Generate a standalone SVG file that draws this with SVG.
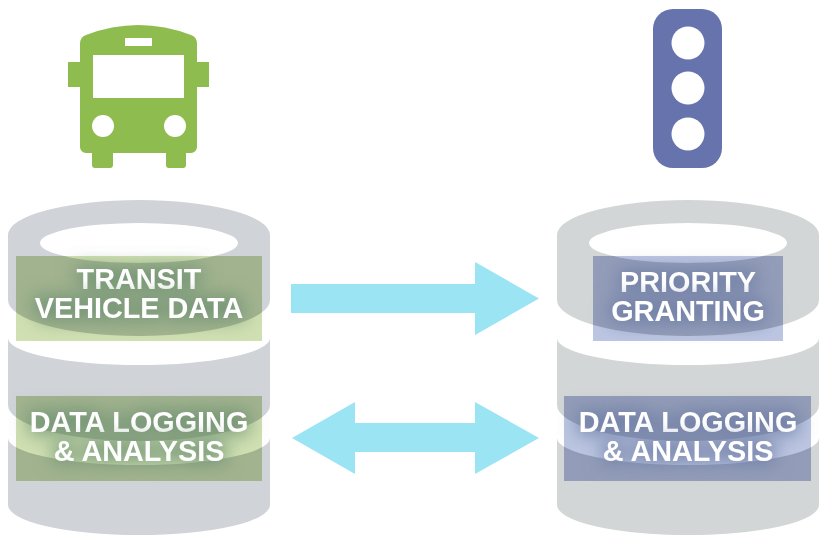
<svg xmlns="http://www.w3.org/2000/svg" xmlns:xlink="http://www.w3.org/1999/xlink" width="825" height="540" viewBox="0 0 825 540">
<style>
.lbl{font-family:"Liberation Sans",Arial,sans-serif;font-weight:700;font-size:28.800px;fill:#fff;text-anchor:middle}
.arrow{fill:#9ae4f4}
.hole{fill:#fff}
.gL{fill:#d0d4d8}
.gR{fill:#d3d6d6}
.lightL{fill:#d0e0b2}
.darkL{fill:#a2b38f}
.lightR{fill:#bcc6e2}
.darkR{fill:#939db9}
.haloL{filter:url(#haloL)}
.haloR{filter:url(#haloR)}
</style>
<defs>
<path id="cyl" fill-rule="evenodd" d="M8 235A131 35 0 0 1 270 235V300A131 36 0 0 1 8 300ZM40 243A99 20 0 0 0 238 243A99 20 0 0 0 40 243ZM8 338A131 27 0 0 0 270 338V405A131 36 0 0 1 8 405ZM8 438A131 27 0 0 0 270 438V505A131 30 0 0 1 8 505Z"/>
<clipPath id="sec"><use xlink:href="#cyl" clip-rule="evenodd"/></clipPath>
<filter id="soft" x="0" y="0" width="100%" height="100%"><feGaussianBlur stdDeviation="0.600"/></filter>
<filter id="haloL" x="-30%" y="-80%" width="160%" height="260%" color-interpolation-filters="sRGB">
<feMorphology in="SourceAlpha" operator="dilate" radius="3" result="d"/>
<feGaussianBlur in="d" stdDeviation="9" result="b"/>
<feFlood flood-color="#6c9070" flood-opacity=".8"/>
<feComposite in2="b" operator="in" result="h"/>
<feMerge><feMergeNode in="h"/><feMergeNode in="SourceGraphic"/></feMerge>
</filter>
<filter id="haloR" x="-30%" y="-80%" width="160%" height="260%" color-interpolation-filters="sRGB">
<feMorphology in="SourceAlpha" operator="dilate" radius="3" result="d"/>
<feGaussianBlur in="d" stdDeviation="9" result="b"/>
<feFlood flood-color="#6c7ba2" flood-opacity=".8"/>
<feComposite in2="b" operator="in" result="h"/>
<feMerge><feMergeNode in="h"/><feMergeNode in="SourceGraphic"/></feMerge>
</filter>
</defs>
<rect width="825" height="540" fill="#fff"/>
<g filter="url(#soft)">
<g id="bus">
<path fill="#8fbc4f" d="M95 168A3 3 0 0 1 92 165V153H86A6 6 0 0 1 80 147V87H68V62H80V44Q80 37 86 35Q112 25 138.500 25Q165 25 191 35Q197 37 197 44V62H209V87H197V147A6 6 0 0 1 191 153H186V165A3 3 0 0 1 183 168H169A3 3 0 0 1 166 165V153H113V165A3 3 0 0 1 110 168Z"/>
<rect class="hole" x="93" y="55" width="91" height="43"/>
<rect class="hole" x="125" y="38" width="27" height="8"/>
<circle class="hole" cx="103" cy="126" r="11"/>
<circle class="hole" cx="175" cy="126" r="11"/>
</g>
<g id="traffic-light">
<rect x="653" y="9" width="69" height="159" rx="20" fill="#6673ac"/>
<circle class="hole" cx="688" cy="43" r="16.500"/>
<circle class="hole" cx="688" cy="88" r="16.500"/>
<circle class="hole" cx="688" cy="134" r="16.500"/>
</g>
<g id="vehicle-store">
<use xlink:href="#cyl" class="gL"/>
<g id="transit-vehicle-data">
<rect class="lightL" x="16" y="256" width="246" height="85"/>
<rect class="darkL" x="16" y="256" width="246" height="85" clip-path="url(#sec)"/>
<text class="lbl haloL" x="139" y="289">TRANSIT</text>
<text class="lbl haloL" x="139" y="318">VEHICLE DATA</text>
</g>
<g id="vehicle-logging">
<rect class="lightL" x="16" y="396" width="246" height="85"/>
<rect class="darkL" x="16" y="396" width="246" height="85" clip-path="url(#sec)"/>
<text class="lbl haloL" x="139" y="432">DATA LOGGING</text>
<text class="lbl haloL" x="139" y="461">&amp; ANALYSIS</text>
</g>
</g>
<g id="signal-store" transform="translate(549 0)">
<use xlink:href="#cyl" class="gR"/>
<g id="priority-granting">
<rect class="lightR" x="44" y="256" width="190" height="85"/>
<rect class="darkR" x="44" y="256" width="190" height="85" clip-path="url(#sec)"/>
<text class="lbl haloR" x="139" y="292">PRIORITY</text>
<text class="lbl haloR" x="139" y="321">GRANTING</text>
</g>
<g id="signal-logging">
<rect class="lightR" x="15" y="396" width="247" height="85"/>
<rect class="darkR" x="15" y="396" width="247" height="85" clip-path="url(#sec)"/>
<text class="lbl haloR" x="139" y="432">DATA LOGGING</text>
<text class="lbl haloR" x="139" y="461">&amp; ANALYSIS</text>
</g>
</g>
<g id="connectors">
<polygon class="arrow" points="291,284 475,284 475,262 539,298.500 475,335 475,313 291,313"/>
<polygon class="arrow" points="292,438 355,402 355,423 475,423 475,402 539,438 475,474 475,452 355,452 355,474"/>
</g>
</g>
</svg>
